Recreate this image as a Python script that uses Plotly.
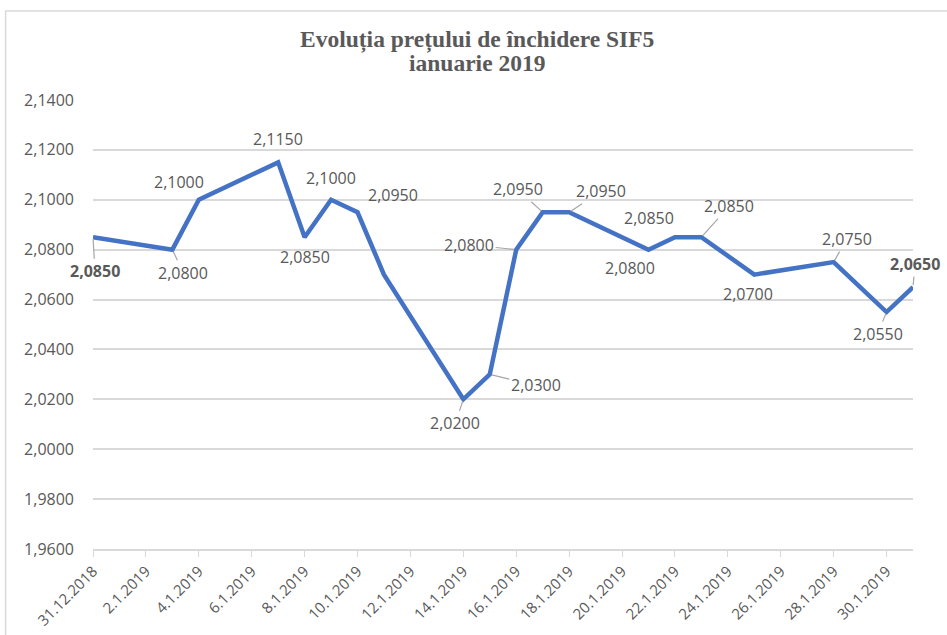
import plotly.graph_objects as go

dates = ["2018-12-31", "2019-01-03", "2019-01-04", "2019-01-07", "2019-01-08", "2019-01-09",
         "2019-01-10", "2019-01-11", "2019-01-14", "2019-01-15", "2019-01-16", "2019-01-17",
         "2019-01-18", "2019-01-21", "2019-01-22", "2019-01-23", "2019-01-25", "2019-01-28",
         "2019-01-29", "2019-01-30", "2019-01-31"]
prices = [2.085, 2.080, 2.100, 2.115, 2.085, 2.100,
          2.095, 2.070, 2.020, 2.030, 2.080, 2.095,
          2.095, 2.080, 2.085, 2.085, 2.070, 2.075,
          2.065, 2.055, 2.065]
tick_dates = ["2018-12-31", "2019-01-02", "2019-01-04", "2019-01-06", "2019-01-08", "2019-01-10",
              "2019-01-12", "2019-01-14", "2019-01-16", "2019-01-18", "2019-01-20", "2019-01-22",
              "2019-01-24", "2019-01-26", "2019-01-28", "2019-01-30"]
tick_text = ["31.12.2018", "2.1.2019", "4.1.2019", "6.1.2019", "8.1.2019", "10.1.2019",
             "12.1.2019", "14.1.2019", "16.1.2019", "18.1.2019", "20.1.2019", "22.1.2019",
             "24.1.2019", "26.1.2019", "28.1.2019", "30.1.2019"]
title_lines = ["Evoluția prețului de închidere SIF5", "ianuarie 2019"]

# label placement: index -> (dx, dy, leader line, bold)
label_pos = {
    0: (2, 34, True, True),
    1: (11, 23, True, False),
    2: (-20, -18, False, False),
    3: (0, -23, False, False),
    4: (0, 20, False, False),
    5: (0, -22, False, False),
    6: (35, -17, False, False),
    8: (-8, 24, True, False),
    9: (46, 11, True, False),
    10: (-47, -5, True, False),
    11: (-25, -23, True, False),
    12: (32, -21, True, False),
    13: (-18, 18, False, False),
    14: (-26, -19, False, False),
    15: (28, -31, True, False),
    16: (-6, 19, False, False),
    17: (13, -23, True, False),
    19: (-9, 22, True, False),
    20: (2, -23, True, True),
}

grey = "#595959"
font = "Open Sans"

fig = go.Figure()
fig.add_trace(go.Scatter(x=dates, y=prices, mode="lines",
                         line=dict(color="#4472C4", width=4.5),
                         cliponaxis=False, hoverinfo="skip"))

for i, (dx, dy, leader, bold) in label_pos.items():
    txt = f"{prices[i]:.4f}".replace(".", ",")
    if bold:
        txt = "<b>" + txt + "</b>"
    if leader:
        fig.add_annotation(x=dates[i], y=prices[i], text=txt, showarrow=True,
                           ax=dx, ay=dy, arrowhead=0, arrowwidth=1.2,
                           arrowcolor="#a6a6a6", standoff=2,
                           font=dict(family=font, size=16, color=grey))
    else:
        fig.add_annotation(x=dates[i], y=prices[i], text=txt, showarrow=False,
                           xshift=dx, yshift=-dy,
                           font=dict(family=font, size=16, color=grey))

# title, two lines placed separately for tighter spacing
for txt, ty in zip(title_lines, [1.134, 1.082]):
    fig.add_annotation(xref="paper", yref="paper", x=0.468, y=ty, text="<b>" + txt + "</b>",
                       showarrow=False, xanchor="center", yanchor="middle",
                       font=dict(family="Liberation Serif", size=23.5, color=grey))

fig.add_shape(type="rect", xref="paper", yref="paper",
              x0=-0.1066, x1=1.2, y0=-0.3, y1=1.198,
              line=dict(color="#d9d9d9", width=1.5), layer="below")

fig.update_layout(
    width=947, height=635,
    margin=dict(l=93, r=34, t=100, b=86),
    plot_bgcolor="white", paper_bgcolor="white",
    separators=", ",
    showlegend=False,
    xaxis=dict(type="date", range=["2018-12-31", "2019-01-31"], automargin=False,
               tickvals=tick_dates, ticktext=tick_text, tickangle=-45,
               showgrid=False, showline=True, linecolor="#d9d9d9", linewidth=1.5,
               ticks="outside", ticklen=6, tickcolor="#d9d9d9",
               tickfont=dict(family=font, size=15, color=grey)),
    yaxis=dict(range=[1.96, 2.14], dtick=0.02, tick0=1.96, tickformat=".4f", automargin=False,
               showgrid=True, gridcolor="#d9d9d9", gridwidth=1.5,
               zeroline=False, showline=False, ticks="", ticklabelstandoff=18,
               tickfont=dict(family=font, size=16, color=grey)),
)

fig.write_html("out.html", config={"displayModeBar": False},
               post_script="document.body.style.margin='0';")
